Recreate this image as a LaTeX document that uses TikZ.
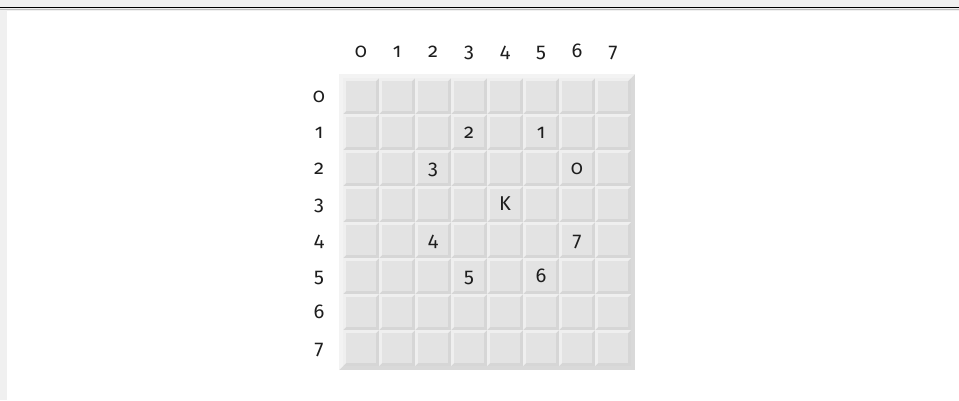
\documentclass[tikz,border=0pt]{standalone}
\usepackage{fontspec}
\setmainfont{Fira Sans}[Numbers=OldStyle]
\definecolor{bggray}{HTML}{F0F0F0}
\definecolor{cellface}{HTML}{E3E3E3}
\definecolor{cellhi}{HTML}{EFEFEF}
\definecolor{celldark}{HTML}{D6D6D6}
\definecolor{brdlight}{HTML}{F3F3F3}
\definecolor{brddark}{HTML}{D9D9D9}
\definecolor{txt}{HTML}{1E1E1E}
\newcommand\bevbox[8]{% x0 y0 x1 y1 b light dark face
  \fill[#7] (#1,#2) rectangle (#3,#4);
  \fill[#6] (#1,#4) -- (#1,#2) -- (#3,#2) -- ({#3-#5},{#2+#5}) -- ({#1+#5},{#2+#5}) -- ({#1+#5},{#4-#5}) -- cycle;
  \fill[#8] ({#1+#5},{#2+#5}) rectangle ({#3-#5},{#4-#5});
}
\begin{document}
\begin{tikzpicture}[x=0.75pt,y=-0.75pt,
  lbl/.style={font=\fontsize{15}{18}\selectfont, text=txt, anchor=base, inner sep=0pt}]
\useasboundingbox (0,0) rectangle (959,400);
\fill[bggray] (0,0) rectangle (959,400);
\fill[white] (7,11) rectangle (959,400);
\draw[black, line width=1.2pt] (0,7.5) -- (959,7.5);
\draw[black!25, line width=0.75pt] (0,9.6) -- (959,9.6);
% board
\bevbox{339}{74}{635}{370}{4}{brdlight}{brddark}{cellface}
\foreach \i in {0,...,7}{
  \foreach \j in {0,...,7}{
    \pgfmathsetmacro\xa{343+36*\i}
    \pgfmathsetmacro\ya{78+36*\j}
    \pgfmathsetmacro\xb{379+36*\i}
    \pgfmathsetmacro\yb{114+36*\j}
    \bevbox{\xa}{\ya}{\xb}{\yb}{3}{cellhi}{celldark}{cellface}
  }
}
% column and row labels
\foreach \i in {0,...,7}{
  \node[lbl] (col\i) at ({361+36*\i},57) {\i};
  \node[lbl] (row\i) at (319,{102+36*\i}) {\i};
}
% move numbers
\node[lbl] (m0) at (577,174) {0};
\node[lbl] (m1) at (541,138) {1};
\node[lbl] (m2) at (469,138) {2};
\node[lbl] (m3) at (433,174) {3};
\node[lbl] (m4) at (433,246) {4};
\node[lbl] (m5) at (469,282) {5};
\node[lbl] (m6) at (541,282) {6};
\node[lbl] (m7) at (577,246) {7};
\node[lbl] (knight) at (505,210) {K};
\end{tikzpicture}
\end{document}
